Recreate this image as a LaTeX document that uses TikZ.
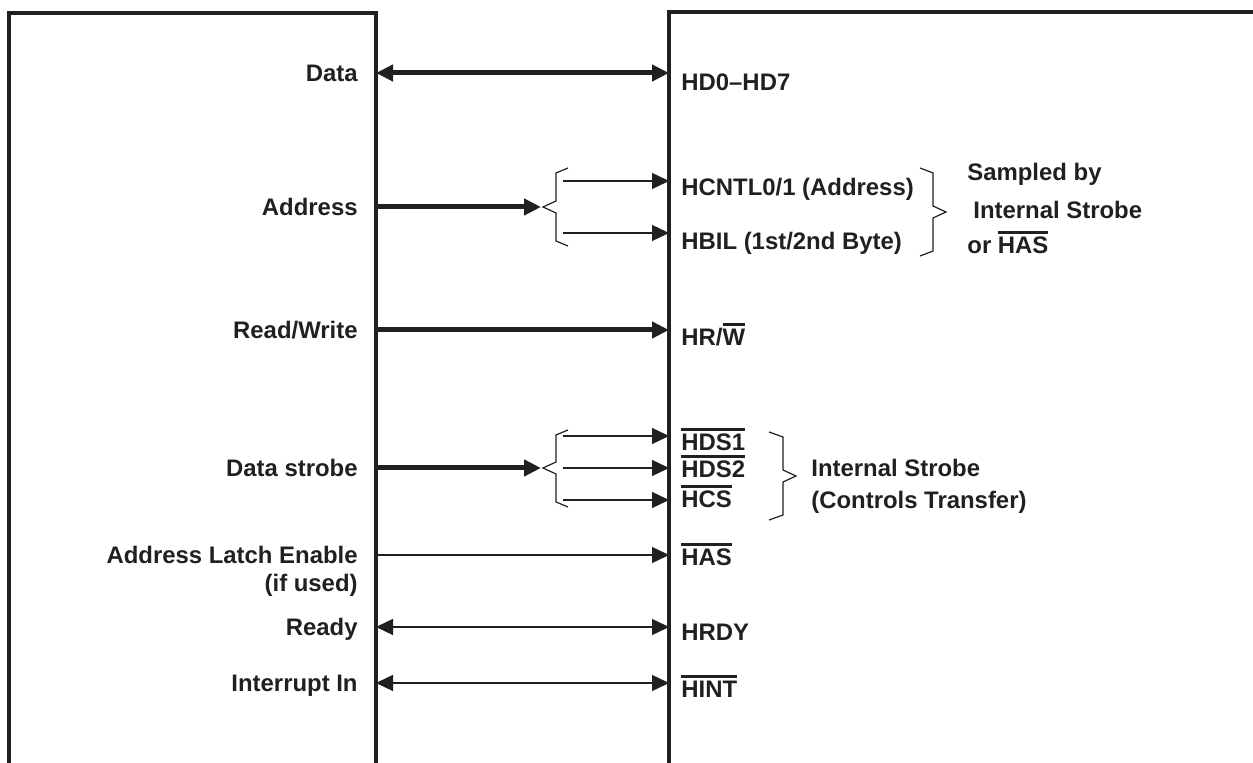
\documentclass[tikz,border=0pt]{standalone}
\usepackage{fontspec}
\setmainfont{Liberation Sans}
\usetikzlibrary{arrows.meta}
\newcommand\myovl[1]{\setbox0\hbox{#1}\rlap{\raisebox{\dimexpr\ht0+1.6pt\relax}{\rule{\wd0}{1.4pt}}}\box0}
\definecolor{ink}{RGB}{35,31,32}
\tikzset{
  lbl/.style={font=\fontsize{11.95}{14}\selectfont\bfseries, inner sep=0pt, text=ink},
  llbl/.style={lbl, anchor=base east},
  rlbl/.style={lbl, anchor=base west},
  boxline/.style={line width=2pt, draw=ink},
  thickline/.style={line width=2.5pt, draw=ink},
  thinline/.style={line width=0.65pt, draw=ink},
  braceline/.style={line width=0.6pt, draw=ink, line join=miter},
  tri/.tip={Triangle[length=8.5pt,width=8pt]},
}
\begin{document}
\begin{tikzpicture}[x=0.5pt,y=-0.5pt]
\useasboundingbox (0,0) rectangle (1253,763);
% boxes
\draw[boxline] (9,770) -- (9,13) -- (376,13) -- (376,770);
\draw[boxline] (669,770) -- (669,12) -- (1260,12);

% box edge coordinates
\coordinate (LD) at (376,73);   \coordinate (RD) at (669,73);
\coordinate (LA) at (376,207);  \coordinate (BA) at (541,207);
\coordinate (SA1) at (563,181); \coordinate (RA1) at (669,181);
\coordinate (SA2) at (563,233); \coordinate (RA2) at (669,233);
\coordinate (LRW) at (376,330); \coordinate (RRW) at (669,330);
\coordinate (LS) at (376,468);  \coordinate (BS) at (541,468);
\coordinate (SS1) at (563,436); \coordinate (RS1) at (669,436);
\coordinate (SS2) at (563,468); \coordinate (RS2) at (669,468);
\coordinate (SS3) at (563,500); \coordinate (RS3) at (669,500);
\coordinate (LE) at (376,555);  \coordinate (RE) at (669,555);
\coordinate (LR) at (376,627);  \coordinate (RR) at (669,627);
\coordinate (LI) at (376,683);  \coordinate (RI) at (669,683);

% left labels
\node[llbl] (lData) at (358,81.5) {Data};
\node[llbl] (lAddr) at (358,215.5) {Address};
\node[llbl] (lRW) at (358,338.5) {Read/Write};
\node[llbl] (lDS) at (358,476.5) {Data strobe};
\node[llbl] (lALE) at (358,563.5) {Address Latch Enable};
\node[llbl] (lALE2) at (358,591.5) {(if used)};
\node[llbl] (lRdy) at (358,635.5) {Ready};
\node[llbl] (lInt) at (358,691.5) {Interrupt In};

% right labels
\node[rlbl] (rHD) at (681,90.5) {HD0–HD7};
\node[rlbl] (rHC) at (681,196) {HCNTL0/1 (Address)};
\node[rlbl] (rHB) at (681,249.5) {HBIL (1st/2nd Byte)};
\node[rlbl] (rRW) at (681,345.5) {HR/\myovl{W}};
\node[rlbl] (rDS1) at (681,451) {\myovl{HDS1}};
\node[rlbl] (rDS2) at (681,478) {\myovl{HDS2}};
\node[rlbl] (rCS) at (681,508) {\myovl{HCS}};
\node[rlbl] (rHAS) at (681,565.5) {\myovl{HAS}};
\node[rlbl] (rRdy) at (681,640.5) {HRDY};
\node[rlbl] (rInt) at (681,697.5) {\myovl{HINT}};

\node[rlbl] (sam1) at (967,181) {Sampled by};
\node[rlbl] (sam2) at (973,219) {Internal Strobe};
\node[rlbl] (sam3) at (967,254) {or \myovl{HAS}};
\node[rlbl] (int1) at (811,476.5) {Internal Strobe};
\node[rlbl] (int2) at (811,508.5) {(Controls Transfer)};

% connectors
\draw[thickline, tri-tri] (LD) -- (RD);
\draw[thickline, -tri] (LA) -- (BA);
\draw[thinline, -tri] (SA1) -- (RA1);
\draw[thinline, -tri] (SA2) -- (RA2);
\draw[thickline, -tri] (LRW) -- (RRW);
\draw[thickline, -tri] (LS) -- (BS);
\draw[thinline, -tri] (SS1) -- (RS1);
\draw[thinline, -tri] (SS2) -- (RS2);
\draw[thinline, -tri] (SS3) -- (RS3);
\draw[thinline, -tri] (LE) -- (RE);
\draw[thinline, tri-tri] (LR) -- (RR);
\draw[thinline, tri-tri] (LI) -- (RI);

% braces
\draw[braceline] (568,168) -- (556,173) -- (556,201) -- (543,207) -- (556,213) -- (556,241) -- (568,246);
\draw[braceline] (568,430) -- (556,435) -- (556,462) -- (543,468) -- (556,474) -- (556,502) -- (568,507);
\draw[braceline] (920,168) -- (933,173) -- (933,206) -- (946,212) -- (933,218) -- (933,251) -- (920,256);
\draw[braceline] (769,432) -- (783,437) -- (783,470) -- (796,476) -- (783,482) -- (783,515) -- (769,520);
\end{tikzpicture}
\end{document}
